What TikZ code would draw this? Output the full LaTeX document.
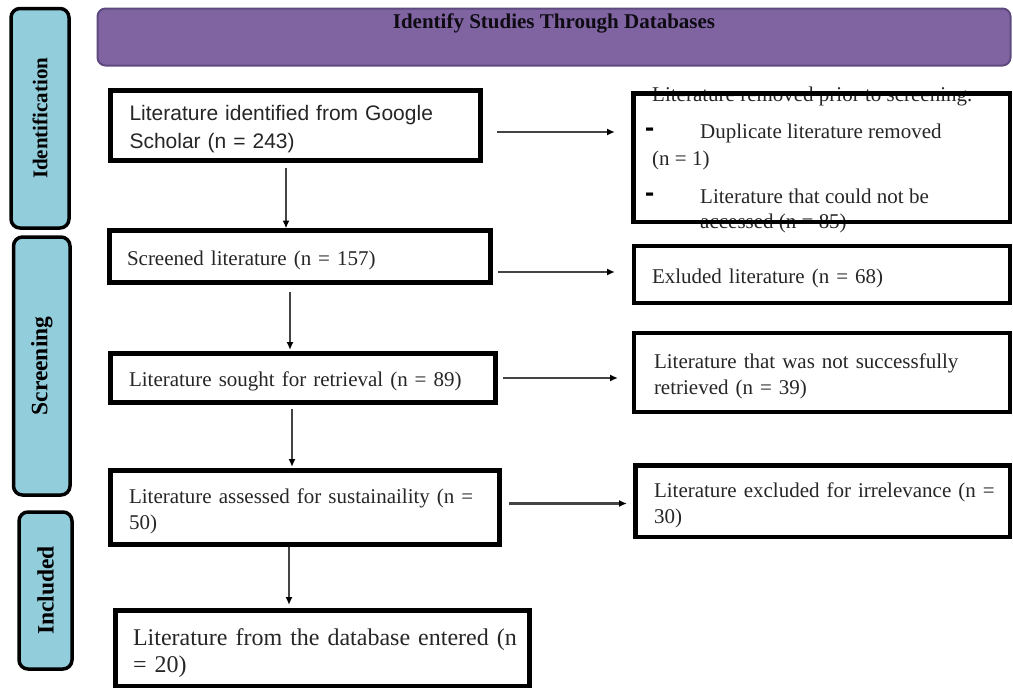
\documentclass[tikz,border=0pt]{standalone}
\usepackage{fontspec}
\setmainfont{Liberation Serif}
\setsansfont{Liberation Sans}
\usetikzlibrary{arrows.meta}
\definecolor{sidefill}{HTML}{92CDDC}
\definecolor{banfill}{HTML}{8064A2}
\definecolor{banline}{HTML}{5E4A7E}
\definecolor{arrline}{HTML}{444444}
\definecolor{txt}{HTML}{262626}
\begin{document}
\begin{tikzpicture}[x=1pt,y=-1pt,
  box/.style={draw=black, line width=4.5pt, rectangle, anchor=north west, outer sep=0pt,
    inner ysep=0pt, align=left, font=\fontsize{21}{25.5}\selectfont, text=txt,
    execute at begin node={\rule{0pt}{1.07em}}},
  side/.style={draw=black, line width=3.5pt, fill=sidefill, rounded corners=9pt, inner sep=0pt, text=black},
  freetext/.style={anchor=base west, inner sep=0pt, font=\fontsize{21}{25.5}\selectfont, text=txt},
  bullet/.style={anchor=base west, inner sep=0pt, font=\fontsize{21}{25.5}\selectfont\bfseries, text=black},
  arr/.style={draw=arrline, line width=2.2pt, -{Latex[length=8pt,width=7pt,black]}},
]
\useasboundingbox (0,0) rectangle (1013,688);
% side bars
\node[side, font=\fontsize{21}{24}\selectfont\bfseries, minimum width=58pt, minimum height=219.5pt] (sid) at (40,118.25) {\rotatebox{90}{Identification}};
\node[side, font=\fontsize{23.5}{26}\selectfont\bfseries, minimum width=56.5pt, minimum height=258pt] (sscr) at (41.75,366) {\rotatebox{90}{Screening}};
\node[side, font=\fontsize{23.5}{26}\selectfont\bfseries, minimum width=53pt, minimum height=157pt] (sinc) at (45.5,590.5) {\rotatebox{90}{Included}};
% banner
\node[draw=banline, line width=2pt, fill=banfill, rounded corners=8pt, minimum width=913pt, minimum height=57pt, inner sep=0pt] (ban) at (554,37) {};
\node[anchor=base, inner sep=0pt, font=\fontsize{21}{24}\selectfont\bfseries, text=black!85!banline] (title) at (554,28) {Identify Studies Through Databases};
% left boxes
\node[box, font=\sffamily\fontsize{21}{28}\selectfont, minimum width=370pt, minimum height=70pt, inner xsep=19pt, text width=332pt] (b1) at (110.5,90.5) {Literature identified from Google\\Scholar (n = 243)};
\node[box, minimum width=381pt, minimum height=52pt, inner xsep=17.5pt, text width=346pt] (b2) at (109.5,230.5) {Screened literature (n = 157)};
\node[box, minimum width=385pt, minimum height=49pt, inner xsep=18.5pt, text width=348pt] (b3) at (110.5,353.5) {Literature sought for retrieval (n = 89)};
\node[box, minimum width=389pt, minimum height=74pt, inner xsep=18.5pt, text width=352pt] (b4) at (110.5,470.5) {\mbox{Literature assessed for sustainaility (n =}\\50)};
\node[box, font=\fontsize{24}{27}\selectfont, minimum width=414pt, minimum height=76pt, inner xsep=17.5pt, text width=379pt] (b5) at (115.5,610.5) {\mbox{Literature from the database entered (n}\\= 20)};
% right boxes
\node[freetext] (r1t1) at (652,101) {Literature removed prior to screening.};
\node[bullet] (r1d1) at (645,138.5) {\scalebox{1.3}[1.8]{-}};
\node[freetext] (r1t2) at (700,138) {Duplicate literature removed};
\node[freetext] (r1t3) at (652,165) {(n = 1)};
\node[bullet] (r1d2) at (645,203.5) {\scalebox{1.3}[1.8]{-}};
\node[freetext] (r1t4) at (700,203) {Literature that could not be};
\node[freetext] (r1t5) at (700,228) {accessed (n = 85)};
\node[box, minimum width=376.5pt, minimum height=128.5pt, inner sep=0pt] (r1) at (633.5,93.5) {};
\node[box, minimum width=376pt, minimum height=57pt, inner xsep=18pt, text width=340pt] (r2) at (634,246) {Exluded literature (n = 68)};
\node[box, minimum width=376pt, minimum height=79pt, inner xsep=20pt, text width=336pt] (r3) at (634,333) {Literature that was not successfully\\retrieved (n = 39)};
\node[box, minimum width=374.5pt, minimum height=71.5pt, inner xsep=18.5pt, text width=337.5pt] (r4) at (635.5,465.5) {\mbox{Literature excluded for irrelevance (n =}\\30)};
% vertical arrows
\draw[arr, shorten <=7.5pt, shorten >=2pt] ([xshift=-9.5pt]b1.south) -- ([xshift=-9.5pt]b1.south |- b2.north);
\draw[arr, shorten <=9.5pt, shorten >=3.5pt] ([xshift=-10pt]b2.south) -- ([xshift=-10pt]b2.south |- b3.north);
\draw[arr, shorten <=6pt, shorten >=3.5pt] ([xshift=-11pt]b3.south) -- ([xshift=-11pt]b3.south |- b4.north);
\draw[arr, shorten <=2.5pt, shorten >=5.5pt] ([xshift=-16pt]b4.south) -- ([xshift=-16pt]b4.south |- b5.north);
% horizontal arrows
\draw[arr, shorten <=16.5pt, shorten >=18.5pt] ([yshift=-6.5pt]b1.east) -- ([yshift=-6.5pt]b1.east -| r1.west);
\draw[arr, shorten <=7.5pt, shorten >=19pt] ([yshift=-15.5pt]b2.east) -- ([yshift=-15.5pt]b2.east -| r2.west);
\draw[arr, shorten <=7.5pt, shorten >=16pt] (b3.east) -- (b3.east -| r3.west);
\draw[arr, shorten <=9.5pt, shorten >=8.5pt] ([yshift=4pt]b4.east) -- ([yshift=4pt]b4.east -| r4.west);
\end{tikzpicture}
\end{document}
